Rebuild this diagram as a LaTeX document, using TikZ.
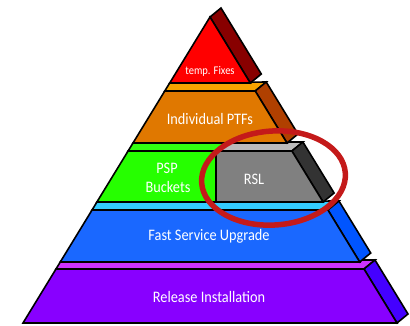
\documentclass[tikz,border=0pt]{standalone}
\usepackage{fontspec}
\setmainfont{Carlito}
\usetikzlibrary{calc}

% layer colours
\definecolor{redF}{HTML}{FF0000}
\definecolor{redS}{HTML}{880000}
\definecolor{orgF}{HTML}{E07800}
\definecolor{orgT}{HTML}{F8A400}
\definecolor{orgS}{HTML}{B04000}
\definecolor{grnF}{HTML}{26FF00}
\definecolor{grnT}{HTML}{33FF11}
\definecolor{gryF}{HTML}{808080}
\definecolor{gryT}{HTML}{BBBBBB}
\definecolor{gryS}{HTML}{333333}
\definecolor{bluF}{HTML}{1A68FF}
\definecolor{bluT}{HTML}{33CCFF}
\definecolor{bluS}{HTML}{0055FF}
\definecolor{purF}{HTML}{8800FF}
\definecolor{purT}{HTML}{CC33FF}
\definecolor{purS}{HTML}{4400FF}
\definecolor{ringC}{HTML}{C41A1A}

% slightly tall lettering
\newcommand\tallText[1]{\scalebox{1}[1.12]{#1}}

\tikzset{
  face/.style={draw=black, line width=1.6pt},
  lbl/.style={text=white, font=\fontsize{14.3}{19}\selectfont, align=center, inner sep=0pt},
  lblsmall/.style={text=white, font=\fontsize{10.5}{12}\selectfont, inner sep=0pt},
}

% one band of the pyramid: #1 top y, #2 bottom y, #3 front, #4 top face, #5 side
\newcommand\pyrband[5]{%
  \pgfmathsetmacro\lt{23+0.6111*(323-(#1))}%
  \pgfmathsetmacro\lb{23+0.6111*(323-(#2))}%
  \pgfmathsetmacro\rt{420-\lt}%
  \pgfmathsetmacro\rb{420-\lb}%
  \pgfmathsetmacro\lk{23+0.6111*(323-(#1)+8)}%
  \filldraw[face, fill=#4] (\lt,#1) -- (\rt,#1) -- ++(11,-9) -- (\lk,#1-8) -- cycle;
  \filldraw[face, fill=#5] (\rt,#1) -- (\rb,#2) -- ++(11,-9) -- ($(\rt,#1)+(11,-9)$) -- cycle;
  \filldraw[face, fill=#3] (\lt,#1) -- (\rt,#1) -- (\rb,#2) -- (\lb,#2) -- cycle;
}

\begin{document}
\begin{tikzpicture}[x=1pt, y=-1pt]
\useasboundingbox (0,0) rectangle (410,325);

% bottom bands
\pyrband{269}{323}{purF}{purT}{purS}
\pyrband{210}{262}{bluF}{bluT}{bluS}

% middle band: green on the left, grey RSL block on the right
\filldraw[face, fill=grnT] (128.1,151) -- (216,151) -- (227,142) -- (133,143) -- cycle;
\filldraw[face, fill=gryT] (216,151) -- (291.9,151) -- (302.9,142) -- (227,142) -- cycle;
\filldraw[face, fill=gryS] (291.9,151) -- (323.1,202) -- (334.1,193) -- (302.9,142) -- cycle;
\filldraw[face, fill=grnF] (128.1,151) -- (216,151) -- (216,202) -- (96.9,202) -- cycle;
\filldraw[face, fill=gryF] (216,151) -- (291.9,151) -- (323.1,202) -- (216,202) -- cycle;

% upper bands
\pyrband{91}{143}{orgF}{orgT}{orgS}

% top triangle
\filldraw[face, fill=redS] (210,17) -- (250.3,83) -- (261.3,74) -- (221,8) -- cycle;
\filldraw[face, fill=redF] (210,17) -- (250.3,83) -- (169.7,83) -- cycle;

% labels
\node[lblsmall] (tfix) at (210,71) {\tallText{temp. Fixes}};
\node[lbl] (iptf) at (210,119) {\tallText{Individual PTFs}};
\node[lbl] (psp) at (167,168) {\tallText{PSP}};
\node[lbl] (bkt) at (168,187) {\tallText{Buckets}};
\node[lbl] (rsl) at (254,179) {\tallText{RSL}};
\node[lbl] (fsu) at (209,236) {\tallText{Fast Service Upgrade}};
\node[lbl] (rel) at (209,297) {\tallText{Release Installation}};

% highlight ring round the RSL block
\draw[ringC, line width=5.5pt] (273.5,178) ellipse[x radius=72pt, y radius=47pt, rotate=4];
\end{tikzpicture}
\end{document}
